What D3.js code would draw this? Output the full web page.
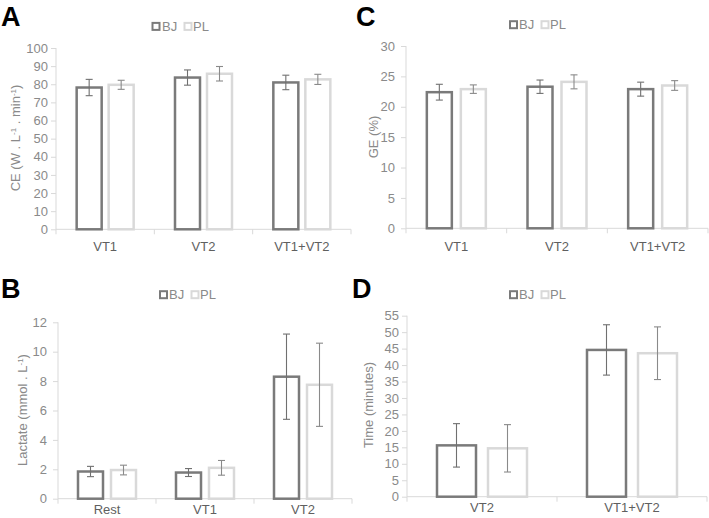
<!DOCTYPE html>
<html>
<head>
<meta charset="utf-8">
<script src="https://cdn.jsdelivr.net/npm/d3@7"></script>
<style>
  html, body { margin: 0; padding: 0; background: #fff; }
  svg { display: block; font-family: "Liberation Sans", Arial, sans-serif; }
</style>
</head>
<body>
<svg id="chart" width="709" height="518"></svg>
<script>
// ---------------- DATA ----------------
const series = ["BJ", "PL"];

const catsA = ["VT1", "VT2", "VT1+VT2"];
const ceBJ = [78.2, 83.7, 81.0];
const ceBJErr = [4.5, 4.2, 4.0];
const cePL = [79.7, 85.8, 82.7];
const cePLErr = [2.5, 4.0, 2.8];
const ceTicks = [0, 10, 20, 30, 40, 50, 60, 70, 80, 90, 100];

const catsC = ["VT1", "VT2", "VT1+VT2"];
const geBJ = [22.4, 23.3, 22.9];
const geBJErr = [1.3, 1.1, 1.15];
const gePL = [22.9, 24.1, 23.5];
const gePLErr = [0.7, 1.15, 0.8];
const geTicks = [0, 5, 10, 15, 20, 25, 30];

const catsB = ["Rest", "VT1", "VT2"];
const laBJ = [1.85, 1.78, 8.3];
const laBJErr = [0.35, 0.27, 2.9];
const laPL = [1.95, 2.1, 7.75];
const laPLErr = [0.33, 0.5, 2.83];
const laTicks = [0, 2, 4, 6, 8, 10, 12];

const catsD = ["VT2", "VT1+VT2"];
const tBJ = [15.6, 44.6];
const tBJErr = [6.6, 7.65];
const tPL = [14.7, 43.6];
const tPLErr = [7.2, 8.0];
const tTicks = [0, 5, 10, 15, 20, 25, 30, 35, 40, 45, 50, 55];

// ---------------- STYLE ----------------
const colBJ = "#7a7a7a";
const colPL = "#d9d9d9";
const errCol = { BJ: "#707070", PL: "#8a8a8a" };
const axisCol = "#d9d9d9";
const tickTextCol = "#8a8a8a";
const catTextCol = "#5f5f5f";

const svg = d3.select("#chart");

function panel(o) {
  const g = svg.append("g");
  const y = d3.scaleLinear().domain([0, o.ymax]).range([o.y0, o.y1]);
  const x0 = d3.scaleBand().domain(o.cats).range([o.xl, o.xr]).padding(0);
  const step = x0.step();
  const groupW = 2 * o.barW + o.gap;
  const x1 = d3.scaleBand().domain(series)
    .range([(step - groupW) / 2, (step + groupW) / 2])
    .paddingInner(o.gap / (o.barW + o.gap)).paddingOuter(0);

  // y axis
  const yAxis = d3.axisLeft(y).tickValues(o.ticks).tickSize(5).tickPadding(o.tickPad);
  const ya = g.append("g").attr("transform", `translate(${o.xl},0)`).call(yAxis);
  ya.select(".domain").attr("stroke", axisCol).attr("d", `M0,${o.y0}V${o.y1}`);
  ya.selectAll(".tick line").attr("stroke", axisCol);
  ya.selectAll(".tick text").attr("fill", tickTextCol).style("font-size", "13px")
    .style("font-family", "'Liberation Sans', Arial, sans-serif");

  // x axis (ticks between categories)
  const xa = g.append("g").attr("transform", `translate(0,${o.y0})`)
    .call(d3.axisBottom(x0).tickSize(0).tickPadding(0));
  xa.select(".domain").attr("stroke", axisCol).attr("d", `M${o.xl},0H${o.xr}`);
  xa.selectAll(".tick text").attr("fill", catTextCol).style("font-size", "13px")
    .style("font-family", "'Liberation Sans', Arial, sans-serif")
    .attr("dy", null).attr("y", o.labOff);
  const bounds = o.cats.map(c => x0(c)).concat([o.xr]);
  xa.selectAll("line.sep").data(bounds).enter().append("line").attr("class", "sep")
    .attr("x1", d => d).attr("x2", d => d).attr("y1", 0).attr("y2", 5)
    .attr("stroke", axisCol);

  // bars
  const rows = [];
  o.cats.forEach((c, i) => {
    rows.push({ c, s: "BJ", v: o.bj[i], e: o.bjErr[i] });
    rows.push({ c, s: "PL", v: o.pl[i], e: o.plErr[i] });
  });
  g.selectAll("rect.bar").data(rows).enter().append("rect").attr("class", "bar")
    .attr("x", d => x0(d.c) + x1(d.s))
    .attr("y", d => y(d.v))
    .attr("width", x1.bandwidth())
    .attr("height", d => y(0) - y(d.v))
    .attr("fill", "#fff")
    .attr("stroke", d => d.s === "BJ" ? colBJ : colPL)
    .attr("stroke-width", 2.5);

  // error bars
  const eg = g.selectAll("g.err").data(rows).enter().append("g").attr("class", "err")
    .attr("stroke", d => errCol[d.s]).attr("stroke-width", 1.1);
  const cx = d => x0(d.c) + x1(d.s) + x1.bandwidth() / 2;
  eg.append("line").attr("x1", cx).attr("x2", cx)
    .attr("y1", d => y(d.v + d.e)).attr("y2", d => y(d.v - d.e));
  eg.append("line").attr("x1", d => cx(d) - 3.5).attr("x2", d => cx(d) + 3.5)
    .attr("y1", d => y(d.v + d.e)).attr("y2", d => y(d.v + d.e));
  eg.append("line").attr("x1", d => cx(d) - 3.5).attr("x2", d => cx(d) + 3.5)
    .attr("y1", d => y(d.v - d.e)).attr("y2", d => y(d.v - d.e));

  // legend
  const lg = g.append("g");
  const items = [
    { s: "BJ", sq: o.leg[0], tx: o.leg[1], col: colBJ },
    { s: "PL", sq: o.leg[2], tx: o.leg[3], col: colPL }
  ];
  items.forEach(it => {
    lg.append("rect").attr("x", it.sq).attr("y", o.legY - 3.5).attr("width", 7).attr("height", 7)
      .attr("fill", "#fff").attr("stroke", it.col).attr("stroke-width", 2);
    lg.append("text").attr("x", it.tx).attr("y", o.legY + 4.5).text(it.s)
      .attr("fill", tickTextCol).style("font-size", "13px");
  });

  // panel letter
  g.append("text").attr("x", o.letterX).attr("y", o.letterY).text(o.letter)
    .style("font-size", "27px").style("font-weight", "bold").attr("fill", "#000");

  // y title
  const t = g.append("text")
    .attr("transform", `translate(${o.titleX},${o.titleY}) rotate(-90)`)
    .attr("text-anchor", "middle").attr("fill", tickTextCol).style("font-size", "13px");
  o.title.forEach(p => {
    const ts = t.append("tspan").text(p.t);
    if (p.sup) ts.attr("baseline-shift", "super").style("font-size", "8px");
  });
}

panel({
  letter: "A", letterX: 1, letterY: 26,
  cats: catsA, bj: ceBJ, bjErr: ceBJErr, pl: cePL, plErr: cePLErr,
  ymax: 100, ticks: ceTicks, xl: 56, xr: 351, y0: 229.3, y1: 48,
  barW: 25, gap: 7, tickPad: 3, labOff: 22,
  leg: [152.5, 162, 184.5, 193], legY: 26.4,
  titleX: 20, titleY: 138,
  title: [{ t: "CE (W . L" }, { t: "-1", sup: true }, { t: " . min" }, { t: "-1", sup: true }, { t: ")" }]
});

panel({
  letter: "C", letterX: 356, letterY: 26,
  cats: catsC, bj: geBJ, bjErr: geBJErr, pl: gePL, plErr: gePLErr,
  ymax: 30, ticks: geTicks, xl: 406, xr: 708, y0: 228.3, y1: 46,
  barW: 25, gap: 9, tickPad: 6, labOff: 22.5,
  leg: [510, 519, 541.5, 550], legY: 24.7,
  titleX: 378, titleY: 137,
  title: [{ t: "GE (%)" }]
});

panel({
  letter: "B", letterX: 1, letterY: 298,
  cats: catsB, bj: laBJ, bjErr: laBJErr, pl: laPL, plErr: laPLErr,
  ymax: 12, ticks: laTicks, xl: 58, xr: 352, y0: 498.7, y1: 322.3,
  barW: 25, gap: 8, tickPad: 6, labOff: 15,
  leg: [160, 169, 191.5, 200], legY: 294.7,
  titleX: 27, titleY: 410,
  title: [{ t: "Lactate (mmol . L" }, { t: "-1", sup: true }, { t: ")" }]
});

panel({
  letter: "D", letterX: 352, letterY: 298,
  cats: catsD, bj: tBJ, bjErr: tBJErr, pl: tPL, plErr: tPLErr,
  ymax: 55, ticks: tTicks, xl: 407, xr: 707, y0: 496.7, y1: 315.7,
  barW: 39, gap: 12, tickPad: 3, labOff: 15,
  leg: [510, 519, 541.5, 550], legY: 294.7,
  titleX: 373, titleY: 405,
  title: [{ t: "Time (minutes)" }]
});
</script>
</body>
</html>
